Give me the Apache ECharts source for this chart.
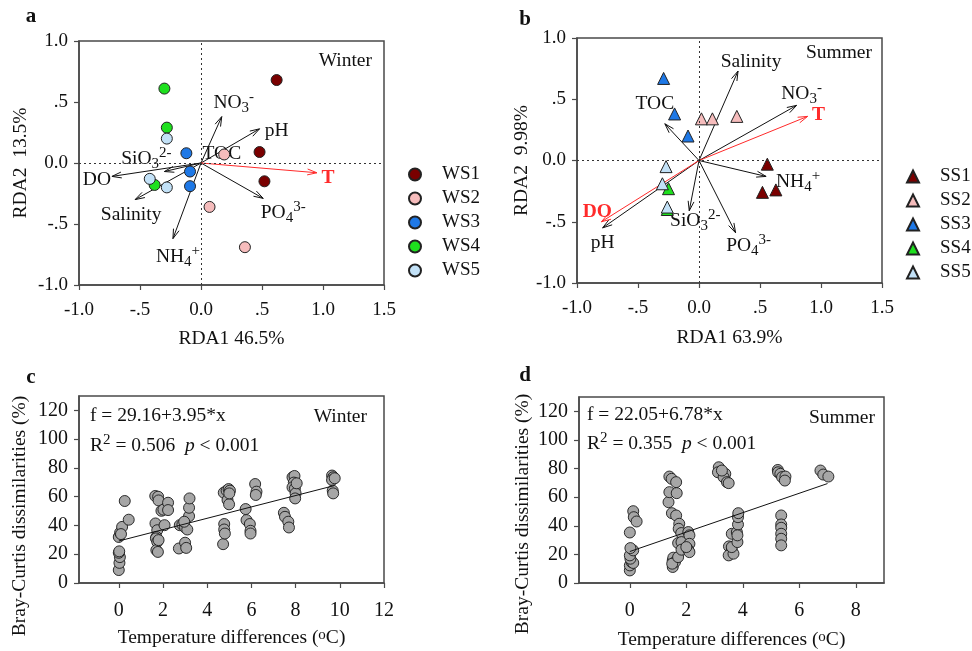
<!DOCTYPE html>
<html>
<head>
<meta charset="utf-8">
<script src="https://cdn.jsdelivr.net/npm/echarts@6/dist/echarts.min.js"></script>
<style>
  html, body { margin: 0; padding: 0; background: #fff; }
  #chart { width: 972px; height: 651px; }
</style>
</head>
<body>
<div id="chart"></div>
<script>
// ---- data ----
const winterSites = ['WS1', 'WS2', 'WS3', 'WS4', 'WS5']
const summerSites = ['SS1', 'SS2', 'SS3', 'SS4', 'SS5']

// RDA site scores, one list per site group
const winterScores = [
  [[0.62, 0.68], [0.48, 0.09], [0.52, -0.15]],
  [[0.19, 0.07], [0.07, -0.36], [0.36, -0.69]],
  [[-0.12, 0.08], [-0.09, -0.07], [-0.09, -0.19]],
  [[-0.30, 0.61], [-0.28, 0.29], [-0.38, -0.18]],
  [[-0.28, 0.20], [-0.42, -0.13], [-0.28, -0.20]]
]
const summerScores = [
  [[0.56, -0.03], [0.52, -0.26], [0.63, -0.24]],
  [[0.02, 0.34], [0.11, 0.34], [0.31, 0.36]],
  [[-0.29, 0.67], [-0.20, 0.38], [-0.09, 0.20]],
  [[-0.25, -0.23], [-0.26, -0.40]],
  [[-0.27, -0.05], [-0.30, -0.19], [-0.26, -0.38]]
]

// environmental vectors: name, RDA1, RDA2
const winterVarNames = ['NO3', 'pH', 'TOC', 'SiO3', 'DO', 'Salinity', 'NH4', 'PO4', 'T']
const winterVarX = [0.17, 0.48, 0.04, -0.30, -0.73, -0.54, -0.23, 0.51, 0.95]
const winterVarY = [0.38, 0.28, 0.03, -0.07, -0.11, -0.30, -0.62, -0.29, -0.08]
const winterRedVars = ['T']

const summerVarNames = ['Salinity', 'NO3', 'T', 'NH4', 'PO4', 'SiO3', 'TOC', 'pH', 'DO']
const summerVarX = [0.32, 0.80, 0.89, 0.55, 0.30, -0.08, -0.28, -0.79, -0.80]
const summerVarY = [0.73, 0.45, 0.36, -0.13, -0.59, -0.41, 0.30, -0.55, -0.50]
const summerRedVars = ['T', 'DO']

// Bray-Curtis dissimilarity (%) against temperature difference (°C)
const winterPairs = [
  [0.0, 9], [0.03, 14], [0.05, 18], [0.0, 21], [0.02, 22], [0.0, 32], [0.06, 35], [0.15, 39], [0.27, 57], [0.45, 44], [0.1, 34],
  [1.65, 60.5], [1.78, 60], [1.8, 57.4], [1.66, 41.4], [1.74, 36.7], [1.7, 32], [1.68, 31], [1.74, 28.6], [1.7, 22.8], [1.77, 21.6],
  [1.93, 50.2], [2.02, 51], [2.23, 55.8], [2.23, 50.7], [2.07, 40.2], [1.8, 29.8],
  [2.72, 24], [3.0, 28], [3.05, 24.4], [2.76, 40.2], [2.88, 40.7], [3.0, 38.6], [3.1, 37.2], [3.18, 46.5], [3.18, 52.3], [3.2, 58.8], [2.96, 42.6],
  [4.72, 27], [4.77, 41], [4.77, 37.2], [4.8, 34.4], [4.75, 62.8], [4.88, 64.2], [4.97, 65.3], [4.92, 57.7], [4.99, 54.7], [5.03, 64.2], [5.0, 62.3],
  [5.74, 51.4], [5.78, 43.7], [5.93, 41], [5.96, 36.3], [5.96, 34.4], [6.17, 68.8], [6.23, 63.5], [6.2, 61.2],
  [7.47, 48.8], [7.52, 46], [7.67, 42.6], [7.7, 38.6],
  [7.86, 73.5], [7.95, 74.4], [7.92, 69.8], [7.86, 66.5], [7.97, 65.8], [8.0, 62.3], [7.98, 58.8], [8.05, 69.3],
  [9.65, 74.7], [9.7, 73.5], [9.65, 71.6], [9.68, 64.2], [9.7, 62.3], [9.77, 72.8]
]
const summerPairs = [
  [0, 8.8], [0, 12.3], [0.06, 14.7], [0.12, 14], [0.02, 17], [0, 19.3], [0.12, 22.8], [0.02, 24.4], [0, 35.3], [0.12, 50.2], [0.14, 46], [0.24, 43],
  [1.37, 56.5], [1.4, 63.5], [1.4, 74.4], [1.48, 72.8], [1.64, 70.5], [1.66, 62.8], [1.49, 48.8], [1.64, 47.2],
  [1.52, 15.8], [1.52, 11.2], [1.54, 17.7], [1.6, 14.7], [1.5, 13.5],
  [1.75, 41.4], [1.73, 37.9], [1.82, 34.9], [1.71, 27.9], [1.83, 28.6], [1.71, 18.1], [1.83, 23.3],
  [2.07, 35.6], [2.11, 33.3], [2.11, 27.4], [2.07, 23.3], [2.11, 21.6], [2.0, 25.1],
  [3.15, 80.9], [3.12, 77.4], [3.38, 76.3], [3.32, 74], [3.44, 70.5], [3.5, 69.8], [3.26, 78.6],
  [3.51, 25.6], [3.61, 22.8], [3.5, 19.3], [3.67, 20.5], [3.61, 25.1], [3.61, 34.4], [3.79, 35.6], [3.83, 40.9], [3.83, 46], [3.84, 48.8], [3.81, 28.6], [3.81, 33.3],
  [5.24, 79], [5.25, 77.4], [5.33, 76.3], [5.39, 74], [5.51, 74.4], [5.49, 71.6],
  [5.36, 47.2], [5.36, 40.9], [5.36, 38.6], [5.36, 34.4], [5.36, 30.9], [5.36, 26.3],
  [6.75, 78.6], [6.85, 75.8], [7.03, 74.4]
]
// fitted lines, end points as drawn
const winterFit = [[0, 29.2], [9.75, 67.7]]
const summerFit = [[0, 22.0], [7.0, 69.5]]

const winterTempTicks = [0, 2, 4, 6, 8, 10, 12]
const summerTempTicks = [0, 2, 4, 6, 8]
const dissimTicks = [0, 20, 40, 60, 80, 100, 120]

// ---- styles ----
const FONT = 'Liberation Serif'
const FS = 19.5
const siteColors = ['#7a0000', '#f6bcbc', '#1e78e6', '#1ee01e', '#c2e1f7']
const axisColor = '#4a4a4a'
const RED = '#ff2a2a'

const labelText = {
  NO3: 'NO{sub|3}{sup|-}',
  PO4: 'PO{sub|4}{sup|3-}',
  SiO3: 'SiO{sub|3}{sup|2-}',
  NH4: 'NH{sub|4}{sup|+}'
}
const richText = {
  sub: { fontFamily: FONT, fontSize: 15, lineHeight: 16, verticalAlign: 'bottom', fill: '#111' },
  sup: { fontFamily: FONT, fontSize: 15, lineHeight: 14, verticalAlign: 'top', fill: '#111' },
  it: { fontFamily: FONT, fontSize: FS, fontStyle: 'italic', fill: '#111' }
}

// label offsets in pixels from the arrow tip
const winterLabelOffset = {
  NO3: [12, -14], pH: [17, 2], TOC: [16, -5], SiO3: [-18, -13], DO: [-15, 3],
  Salinity: [-4, 15], NH4: [5, 18], PO4: [20, 14], T: [11, 5]
}
const summerLabelOffset = {
  Salinity: [13, -9], NO3: [5, -12], T: [11, -1], NH4: [32, 5], PO4: [13, 13],
  SiO3: [6, 10], TOC: [-10, -20], pH: [0, 15], DO: [-4, -10]
}

function rdaLabel (v) {
  if (v === 0) return '0.0'
  const a = Math.abs(v)
  const s = a < 1 ? String(a).replace('0.', '.') : a.toFixed(1)
  return (v < 0 ? '-' : '') + s
}

function arrowRenderer (names, offsets, redVars) {
  return function (params, api) {
    const name = names[params.dataIndex]
    const o = api.coord([0, 0])
    const p = api.coord([api.value(0), api.value(1)])
    const red = redVars.indexOf(name) >= 0
    const color = red ? RED : '#111'
    const dx = p[0] - o[0]
    const dy = p[1] - o[1]
    const len = Math.sqrt(dx * dx + dy * dy)
    const th = Math.atan2(dy, dx)
    const head = 10
    const a = 0.3
    const children = []
    if (len > 15) {
      children.push({
        type: 'line',
        shape: { x1: o[0], y1: o[1], x2: p[0], y2: p[1] },
        style: { stroke: color, lineWidth: 1 }
      })
      children.push({
        type: 'polyline',
        shape: {
          points: [
            [p[0] - head * Math.cos(th - a), p[1] - head * Math.sin(th - a)],
            [p[0], p[1]],
            [p[0] - head * Math.cos(th + a), p[1] - head * Math.sin(th + a)]
          ]
        },
        style: { stroke: color, lineWidth: 1, fill: null }
      })
    }
    const off = offsets[name] || [0, 0]
    children.push({
      type: 'text',
      x: p[0] + off[0],
      y: p[1] + off[1],
      style: {
        text: labelText[name] || name,
        rich: richText,
        fontFamily: FONT,
        fontSize: FS,
        fontWeight: red ? 'bold' : 'normal',
        lineHeight: 26,
        fill: color,
        align: 'center',
        verticalAlign: 'middle'
      }
    })
    return { type: 'group', children }
  }
}

function zeroLines () {
  return {
    silent: true,
    symbol: 'none',
    label: { show: false },
    lineStyle: { type: [2, 3], color: '#333', width: 1 },
    data: [{ xAxis: 0 }, { yAxis: 0 }]
  }
}

const chart = echarts.init(document.getElementById('chart'), null, { renderer: 'canvas' })

const gridBox = { show: true, borderColor: axisColor, borderWidth: 1.5, backgroundColor: 'transparent' }
const tickLabel = (size) => ({ color: '#111', fontFamily: FONT, fontSize: size })
const nameStyle = { color: '#111', fontFamily: FONT, fontSize: FS, rich: richText }

function rdaAxis (gridIndex, name, nameGap, isY) {
  return {
    type: 'value',
    gridIndex,
    min: -1,
    max: isY ? 1 : 1.5,
    interval: 0.5,
    name,
    nameLocation: 'middle',
    nameGap,
    nameTextStyle: nameStyle,
    axisLine: { show: true, onZero: false, lineStyle: { color: axisColor, width: 1.5 } },
    axisTick: { show: true, length: 5, lineStyle: { color: axisColor, width: 1.2 } },
    axisLabel: { ...tickLabel(19), margin: isY ? 11 : 16, formatter: rdaLabel },
    splitLine: { show: false }
  }
}

function valueAxis (gridIndex, min, max, ticks, isY, extra) {
  return Object.assign({
    type: 'value',
    gridIndex,
    min,
    max,
    axisLine: { show: true, onZero: false, lineStyle: { color: axisColor, width: 1.5 } },
    axisTick: { show: true, length: 5, customValues: ticks, lineStyle: { color: axisColor, width: 1.2 } },
    axisLabel: { ...tickLabel(20), customValues: ticks, margin: isY ? 11 : 18 },
    splitLine: { show: false }
  }, extra)
}

const series = []

winterSites.forEach((s, i) => {
  series.push({
    name: s,
    type: 'scatter',
    xAxisIndex: 0,
    yAxisIndex: 0,
    symbol: 'circle',
    symbolSize: 11,
    z: 4,
    itemStyle: { color: siteColors[i], borderColor: '#222', borderWidth: 1, opacity: 1 },
    data: winterScores[i],
    markLine: i === 0 ? zeroLines() : undefined
  })
})
summerSites.forEach((s, i) => {
  series.push({
    name: s,
    type: 'scatter',
    xAxisIndex: 1,
    yAxisIndex: 1,
    symbol: 'triangle',
    symbolSize: 12,
    z: 4,
    itemStyle: { color: siteColors[i], borderColor: '#222', borderWidth: 1, opacity: 1 },
    data: summerScores[i],
    markLine: i === 0 ? zeroLines() : undefined
  })
})

series.push({
  type: 'custom',
  xAxisIndex: 0,
  yAxisIndex: 0,
  z: 3,
  silent: true,
  renderItem: arrowRenderer(winterVarNames, winterLabelOffset, winterRedVars),
  data: winterVarX.map((x, i) => [x, winterVarY[i]])
})
series.push({
  type: 'custom',
  xAxisIndex: 1,
  yAxisIndex: 1,
  z: 3,
  silent: true,
  renderItem: arrowRenderer(summerVarNames, summerLabelOffset, summerRedVars),
  data: summerVarX.map((x, i) => [x, summerVarY[i]])
})

const dotStyle = { color: '#a6a6a6', borderColor: '#1a1a1a', borderWidth: 0.9, opacity: 1 }
series.push({
  type: 'scatter', xAxisIndex: 2, yAxisIndex: 2, symbolSize: 11, itemStyle: dotStyle, data: winterPairs, z: 3
})
series.push({
  type: 'line', xAxisIndex: 2, yAxisIndex: 2, symbol: 'none', z: 4,
  lineStyle: { color: '#111', width: 1 }, data: winterFit
})
series.push({
  type: 'scatter', xAxisIndex: 3, yAxisIndex: 3, symbolSize: 11, itemStyle: dotStyle, data: summerPairs, z: 3
})
series.push({
  type: 'line', xAxisIndex: 3, yAxisIndex: 3, symbol: 'none', z: 4,
  lineStyle: { color: '#111', width: 1 }, data: summerFit
})

const legendBase = {
  orient: 'vertical',
  selectedMode: false,
  itemWidth: 12,
  itemHeight: 12,
  itemGap: 5,
  textStyle: { color: '#111', fontFamily: FONT, fontSize: 19, padding: [0, 0, 0, 16] }
}

const plainText = (x, y, text, align, extra) => ({
  type: 'text',
  x,
  y,
  style: Object.assign({
    text,
    fontFamily: FONT,
    fontSize: FS,
    fill: '#111',
    align: align || 'left',
    verticalAlign: 'middle',
    rich: richText
  }, extra)
})
const panelTag = (x, y, t) => plainText(x, y, t, 'center', { fontWeight: 'bold', fontSize: 21 })
const sideName = (x, y) => ({
  type: 'text', x, y, rotation: Math.PI / 2,
  style: { text: 'Bray-Curtis dissimilarities (%)', fontFamily: FONT, fontSize: FS, fill: '#111', align: 'center', verticalAlign: 'middle' }
})

const option = {
  backgroundColor: '#fff',
  animation: false,
  grid: [
    { left: 79, top: 41, width: 305, height: 244, ...gridBox },
    { left: 577, top: 38, width: 305, height: 245, ...gridBox },
    { left: 79, top: 396, width: 305, height: 187, ...gridBox },
    { left: 579, top: 397, width: 305, height: 186, ...gridBox }
  ],
  xAxis: [
    rdaAxis(0, 'RDA1 46.5%', 44, false),
    rdaAxis(1, 'RDA1 63.9%', 45, false),
    valueAxis(2, -1.8, 12, winterTempTicks, false, {
      name: 'Temperature differences ({sup|o}C)', nameLocation: 'middle', nameGap: 45, nameTextStyle: nameStyle
    }),
    valueAxis(3, -1.8, 9, summerTempTicks, false, {
      name: 'Temperature differences ({sup|o}C)', nameLocation: 'middle', nameGap: 47, nameTextStyle: nameStyle
    })
  ],
  yAxis: [
    rdaAxis(0, 'RDA2  13.5%', 48, true),
    rdaAxis(1, 'RDA2  9.98%', 44, true),
    valueAxis(2, 0, 130, dissimTicks, true),
    valueAxis(3, 0, 130, dissimTicks, true)
  ],
  legend: [
    { ...legendBase, data: winterSites.map(n => ({ name: n, icon: 'circle' })), left: 403, top: 160 },
    { ...legendBase, data: summerSites.map(n => ({ name: n, icon: 'triangle' })), left: 901, top: 162 }
  ],
  graphic: [
    panelTag(31, 17, 'a'),
    panelTag(525, 20, 'b'),
    panelTag(31, 378, 'c'),
    panelTag(525, 376, 'd'),
    plainText(372, 61, 'Winter', 'right'),
    plainText(872, 53, 'Summer', 'right'),
    plainText(90, 416, 'f = 29.16+3.95*x'),
    plainText(90, 446, 'R{sup|2} = 0.506  {it|p} < 0.001', 'left', { lineHeight: 26 }),
    plainText(367, 417, 'Winter', 'right'),
    plainText(587, 415, 'f = 22.05+6.78*x'),
    plainText(587, 444, 'R{sup|2} = 0.355  {it|p} < 0.001', 'left', { lineHeight: 26 }),
    plainText(875, 418, 'Summer', 'right'),
    sideName(20, 516),
    sideName(523, 514)
  ],
  series
}

chart.setOption(option)
</script>
</body>
</html>
